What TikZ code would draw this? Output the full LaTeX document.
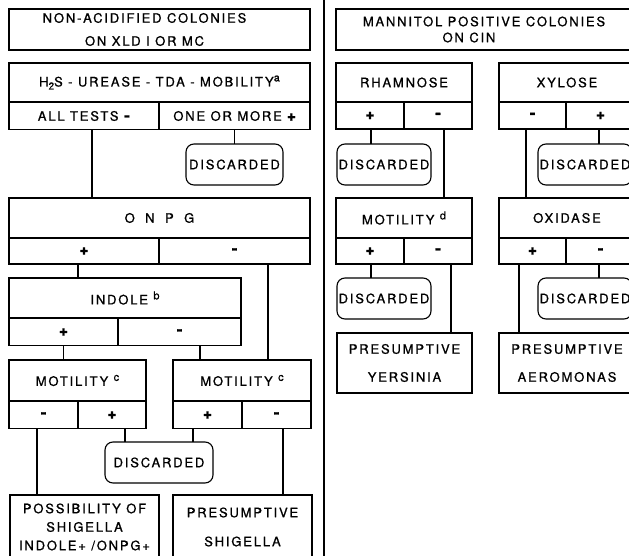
\documentclass[tikz,border=0pt]{standalone}
\usepackage{fontspec}
\setmainfont{TeX Gyre Heros}[LetterSpace=14,FakeBold=0.9]
\newfontfamily\signfont{DejaVu Sans}[FakeBold=0.8]
\newcommand{\pls}{{\signfont\fontsize{10}{10}\selectfont ✚}}
\newcommand{\mns}{{\signfont\bfseries\fontsize{15}{15}\selectfont -}}
\newcommand{\sups}[1]{\raisebox{5pt}{\fontsize{11}{11}\selectfont #1}}
\newcommand{\subs}[1]{\raisebox{-3pt}{\fontsize{10}{10}\selectfont #1}}
\begin{document}
\begin{tikzpicture}[x=1pt,y=-1pt,line width=1.1pt,
    font=\fontsize{13}{19}\selectfont,
    box/.style={draw,rectangle,inner sep=0pt,outer sep=0pt,align=center},
    hdr/.style={box,minimum height=40pt},
    cell/.style={box,minimum height=27pt},
    disc/.style={box,rounded corners=8pt,minimum height=41pt}]
    \useasboundingbox (0,0) rectangle (629,556);
    \clip (0,0) rectangle (629,556);
    % left panel
    \node[box,minimum width=301pt,minimum height=41pt] (src1) at (159.5,29.5)
        {NON-ACIDIFIED COLONIES\hspace*{30pt}\\[4pt]ON XLD I OR MC\hspace*{30pt}};
    \node[hdr,minimum width=301pt,minimum height=39pt] (h2s) at (159.5,82.5)
        {H\subs{2}S - UREASE - TDA - MOBILITY\sups{a}};
    \node[cell,minimum width=150pt] (h2sA) at (84,116) {ALL TESTS \mns};
    \node[cell,minimum width=151pt] (h2sB) at (234.5,116) {ONE OR MORE \pls};
    \node[disc,minimum width=97pt] (disc1) at (234.5,164.5) {DISCARDED};
    \node[hdr,minimum width=301pt] (onpg) at (159.5,218)
        {O\hspace{5pt} N\hspace{5pt} P\hspace{5pt} G};
    \node[cell,minimum width=150pt,minimum height=26pt] (onpgP) at (84,251) {\pls};
    \node[cell,minimum width=151pt,minimum height=26pt] (onpgM) at (234.5,251) {\mns};
    \node[hdr,minimum width=232pt] (indole) at (125,298) {INDOLE \sups{b}};
    \node[cell,minimum width=109pt] (indoleP) at (63.5,332) {\pls};
    \node[cell,minimum width=123pt] (indoleM) at (179.5,332) {\mns};
    \node[hdr,minimum width=137pt,minimum height=41pt] (motL) at (77.5,380.5) {MOTILITY \sups{c}};
    \node[cell,minimum width=69pt] (motLM) at (43.5,415) {\mns};
    \node[cell,minimum width=68pt] (motLP) at (112,415) {\pls};
    \node[hdr,minimum width=138pt,minimum height=41pt] (motR) at (242,380.5) {MOTILITY \sups{c}};
    \node[cell,minimum width=69pt] (motRP) at (207.5,415) {\pls};
    \node[cell,minimum width=69pt] (motRM) at (276.5,415) {\mns};
    \node[disc,minimum width=108pt] (disc2) at (159,462.5) {DISCARDED};
    \node[box,minimum width=149pt,minimum height=64pt] (poss) at (84.5,527)
        {POSSIBILITY OF\\[-0.5pt]SHIGELLA\\[-0.5pt]INDOLE+ /ONPG+};
    \node[box,minimum width=139pt,minimum height=64pt] (presS) at (242.5,527)
        {PRESUMPTIVE\\[10pt]SHIGELLA};
    \draw ([xshift=8pt]h2sA.south) -- ([xshift=8pt]h2sA.south |- onpg.north);
    \draw (h2sB.south) -- (h2sB.south |- disc1.north);
    \draw ([xshift=-6pt]onpgP.south) -- ([xshift=-6pt]onpgP.south |- indole.north);
    \draw ([xshift=33.5pt]onpgM.south) -- ([xshift=33.5pt]onpgM.south |- motR.north);
    \draw (indoleP.south) -- (indoleP.south |- motL.north);
    \draw ([xshift=20.5pt]indoleM.south) -- ([xshift=20.5pt]indoleM.south |- motR.north);
    \draw ([xshift=-6.5pt]motLM.south) -- ([xshift=-6.5pt]motLM.south |- poss.north);
    \draw ([xshift=13pt]motLP.south) -- ([xshift=13pt]motLP.south |- disc2.north);
    \draw ([xshift=-14.5pt]motRP.south) -- ([xshift=-14.5pt]motRP.south |- disc2.north);
    \draw ([xshift=6.5pt]motRM.south) -- ([xshift=6.5pt]motRM.south |- presS.north);
    % separator
    \coordinate (septop) at (324,0);
    \coordinate (sepbot) at (324,556);
    \draw (septop) -- (sepbot);
    % right panel
    \node[box,minimum width=296pt,minimum height=41pt] (src2) at (484,29.5)
        {MANNITOL POSITIVE COLONIES\\[-3pt]ON CIN\hspace*{30pt}};
    \node[hdr,minimum width=136pt,minimum height=39pt] (rham) at (404,82.5) {RHAMNOSE};
    \node[cell,minimum width=68pt] (rhamP) at (370,115.5) {\pls};
    \node[cell,minimum width=68pt] (rhamM) at (438,115.5) {\mns};
    \node[hdr,minimum width=136pt,minimum height=39pt] (xyl) at (567,82.5) {XYLOSE};
    \node[cell,minimum width=67pt] (xylM) at (532.5,115.5) {\mns};
    \node[cell,minimum width=69pt] (xylP) at (600.5,115.5) {\pls};
    \node[disc,minimum width=94pt] (discR) at (384,164.5) {DISCARDED};
    \node[disc,minimum width=94pt] (discX) at (585,164.5) {DISCARDED};
    \node[hdr,minimum width=136pt] (mot) at (404,218) {MOTILITY \sups{d}};
    \node[cell,minimum width=68pt,minimum height=26pt] (motP) at (370,251) {\pls};
    \node[cell,minimum width=68pt,minimum height=26pt] (motM) at (438,251) {\mns};
    \node[hdr,minimum width=136pt] (oxi) at (567,218) {OXIDASE};
    \node[cell,minimum width=67pt,minimum height=26pt] (oxiP) at (532.5,251) {\pls};
    \node[cell,minimum width=69pt,minimum height=26pt] (oxiM) at (600.5,251) {\mns};
    \node[disc,minimum width=94pt] (discM) at (384,298.5) {DISCARDED};
    \node[disc,minimum width=94pt] (discO) at (585,298.5) {DISCARDED};
    \node[box,minimum width=135pt,minimum height=60pt] (yers) at (404.5,363)
        {PRESUMPTIVE\\[9pt]YERSINIA};
    \node[box,minimum width=136pt,minimum height=60pt] (aero) at (567,363)
        {PRESUMPTIVE\\[9pt]AEROMONAS};
    \draw ([xshift=1pt]rhamP.south) -- ([xshift=1pt]rhamP.south |- discR.north);
    \draw ([xshift=6pt]rhamM.south) -- ([xshift=6pt]rhamM.south |- mot.north);
    \draw ([xshift=-6.5pt]xylM.south) -- ([xshift=-6.5pt]xylM.south |- oxi.north);
    \draw ([xshift=-1.5pt]xylP.south) -- ([xshift=-1.5pt]xylP.south |- discX.north);
    \draw ([xshift=1pt]motP.south) -- ([xshift=1pt]motP.south |- discM.north);
    \draw ([xshift=13pt]motM.south) -- ([xshift=13pt]motM.south |- yers.north);
    \draw ([xshift=-13.5pt]oxiP.south) -- ([xshift=-13.5pt]oxiP.south |- aero.north);
    \draw ([xshift=-1.5pt]oxiM.south) -- ([xshift=-1.5pt]oxiM.south |- discO.north);
\end{tikzpicture}
\end{document}
